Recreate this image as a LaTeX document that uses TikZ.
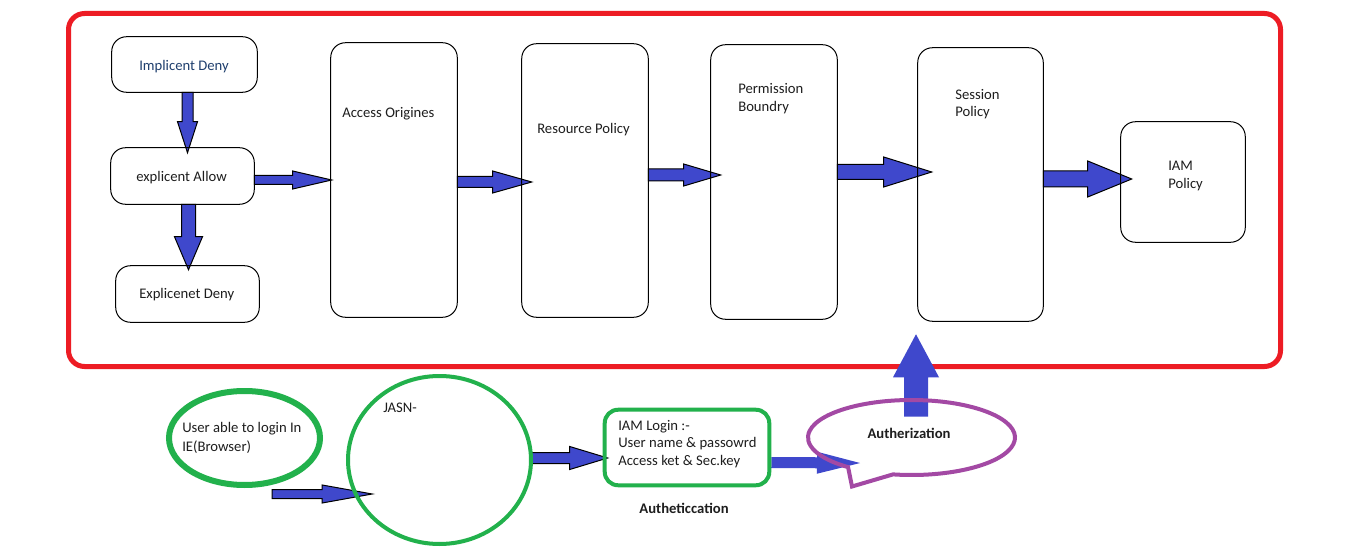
\documentclass[tikz,border=0pt]{standalone}
\usepackage{fontspec}
\setmainfont{Carlito}
\usetikzlibrary{calc,shapes.geometric}
\definecolor{arrowblue}{HTML}{3F48CC}
\definecolor{paintgreen}{HTML}{22B14C}
\definecolor{paintred}{HTML}{ED1C24}
\definecolor{paintpurple}{HTML}{A349A4}
\definecolor{textdark}{HTML}{1E1E1E}
\definecolor{textblue}{HTML}{1F3F6E}
\newcommand{\blockarr}[6][]{%
  \pgfmathsetmacro{\bsw}{#4*0.75}%
  \pgfmathsetmacro{\bhw}{#5*0.75}%
  \pgfmathsetmacro{\bhl}{#6*0.75}%
  \path #2 coordinate (ba-s) #3 coordinate (ba-t);
  \coordinate (ba-b) at ($(ba-t)!\bhl pt!(ba-s)$);
  \path[arrowbody,#1]
    ($(ba-s)!\bsw pt!90:(ba-t)$) -- ($(ba-b)!\bsw pt!90:(ba-t)$) --
    ($(ba-b)!\bhw pt!90:(ba-t)$) -- (ba-t) --
    ($(ba-b)!\bhw pt!-90:(ba-t)$) -- ($(ba-b)!\bsw pt!-90:(ba-t)$) --
    ($(ba-s)!\bsw pt!-90:(ba-t)$) -- cycle;
}
\tikzset{
  arrowbody/.style={fill=arrowblue, draw=black, line width=0.75pt, line join=miter},
  nooutline/.style={draw=none},
  sz/.style 2 args={minimum width=#1*0.75pt, minimum height=#2*0.75pt},
  box/.style={draw=black, line width=0.75pt, rounded corners=11pt, inner sep=0pt},
  txt/.style={inner sep=0pt, anchor=base west, text=textdark, font=\fontsize{11}{13}\selectfont},
  btxt/.style={inner sep=0pt, anchor=base, text=textdark, font=\fontsize{11}{13}\selectfont\bfseries},
}
\begin{document}
\begin{tikzpicture}[x=0.75pt, y=-0.75pt]
\useasboundingbox[fill=white] (0,0) rectangle (1360,556);

% red frame
\node[draw=paintred, line width=3.75pt, rounded corners=12pt, sz={1212}{353}, inner sep=0pt] (frame) at (674.5,190) {};

% box nodes (invisible first, drawn later)
\node[sz={145}{55}, inner sep=0pt] (imp) at (184.5,64.5) {};
\node[sz={143}{56}, inner sep=0pt] (allow) at (182.5,176) {};
\node[sz={143}{56}, inner sep=0pt] (exden) at (187.5,294) {};
\node[sz={126}{274}, inner sep=0pt] (access) at (394,180) {};
\node[sz={126}{273}, inner sep=0pt] (resource) at (585,180.5) {};
\node[sz={126}{274}, inner sep=0pt] (perm) at (774,182) {};
\node[sz={125}{273}, inner sep=0pt] (session) at (980.5,184.5) {};
\node[sz={124}{120}, inner sep=0pt] (iam) at (1183,182) {};

% arrows in the frame
\blockarr{($(imp.south)+(3,0)$)}{($(allow.north)+(5,5)$)}{5.5}{10}{31}
\blockarr{($(allow.south)+(6,0)$)}{($(exden.north)+(1,4)$)}{7}{14}{33}
\blockarr{($(allow.east)+(0,4)$)}{($(access.west)+(1,0)$)}{4.5}{9}{39}
\blockarr{($(access.east)+(0,2)$)}{($(resource.west)+(10,1.5)$)}{5.5}{11}{39}
\blockarr{($(resource.east)+(0,-5.5)$)}{($(perm.west)+(10,-7)$)}{6}{11}{37}
\blockarr{($(perm.east)+(0,-10)$)}{($(session.west)+(14,-12.5)$)}{7.5}{15}{48}
\blockarr{($(session.east)+(0,-5.5)$)}{($(iam.west)+(11,-3)$)}{8}{18}{44}

% boxes drawn
\foreach \b in {imp,allow,exden,access,resource,perm,session,iam}{
  \draw[line width=0.75pt, rounded corners=11pt] (\b.north west) rectangle (\b.south east);
}

% texts in the frame
\node[txt, text=textblue] (timp) at (139,71) {Implicent Deny};
\node[txt] (tallow) at (136,182) {explicent Allow};
\node[txt] (texden) at (139,298) {Explicenet Deny};
\node[txt] (taccess) at (342,118) {Access Origines};
\node[txt] (tresource) at (537,134) {Resource Policy};
\node[txt] (tperm1) at (738,94) {Permission};
\node[txt] (tperm2) at (738,112) {Boundry};
\node[txt] (tsess1) at (955,100) {Session};
\node[txt] (tsess2) at (955,117) {Policy};
\node[txt] (tiam1) at (1168,171) {IAM};
\node[txt] (tiam2) at (1168,189) {Policy};

% bottom nodes
\node[ellipse, sz={151}{94}, inner sep=0pt] (user) at (244.5,438) {};
\node[ellipse, sz={183}{168}, inner sep=0pt] (jasn) at (439.5,460) {};
\node[sz={164}{75}, inner sep=0pt] (login) at (687,447.5) {};
\node[ellipse, sz={207}{75}, inner sep=0pt] (auth) at (911.5,437.5) {};
\coordinate (ustart) at (272,494);

% bottom arrows under the shapes
\blockarr{(ustart)}{($(jasn.west)+(24.5,34)$)}{4.5}{9}{50}
\blockarr{($(jasn.east)+(0,-2)$)}{($(login.west)+(3,10.5)$)}{5.5}{11.5}{38}
\blockarr[nooutline]{($(login.east)+(2,15)$)}{($(auth.center)+(-51.5,25.5)$)}{5.5}{11}{43}
\blockarr[nooutline]{($(auth.north)+(4.5,17)$)}{($(session.south)+(-64.5,13)$)}{12}{23}{43}

% bottom shapes
\draw[paintgreen, line width=4.5pt] (user.center) ellipse[x radius=75.5*0.75pt, y radius=47*0.75pt];
\draw[paintgreen, line width=3pt] (jasn.center) ellipse[x radius=91.5*0.75pt, y radius=84*0.75pt];
\draw[paintgreen, line width=3pt, rounded corners=10pt] (login.north west) rectangle (login.south east);
\draw[paintpurple, line width=3pt, line join=miter]
  ($(auth.center)+(259.7:77.625pt and 28.125pt)$)
  arc[start angle=259.7, end angle=592.2, x radius=77.625pt, y radius=28.125pt]
  -- ($(auth.center)+(-59.5,49)$) -- cycle;

% bottom texts
\node[txt] (tuser1) at (182,432) {User able to login In};
\node[txt] (tuser2) at (182,451) {IE(Browser)};
\node[txt] (tjasn) at (383,412) {JASN-};
\node[txt] (tlog1) at (618,430) {IAM Login :-};
\node[txt] (tlog2) at (618,447) {User name \& passowrd};
\node[txt] (tlog3) at (618,465) {Access ket \& Sec.key};
\node[btxt] (tauthc) at (684,513) {Autheticcation};
\node[btxt] (tauthz) at (909,438) {Autherization};
\end{tikzpicture}
\end{document}
